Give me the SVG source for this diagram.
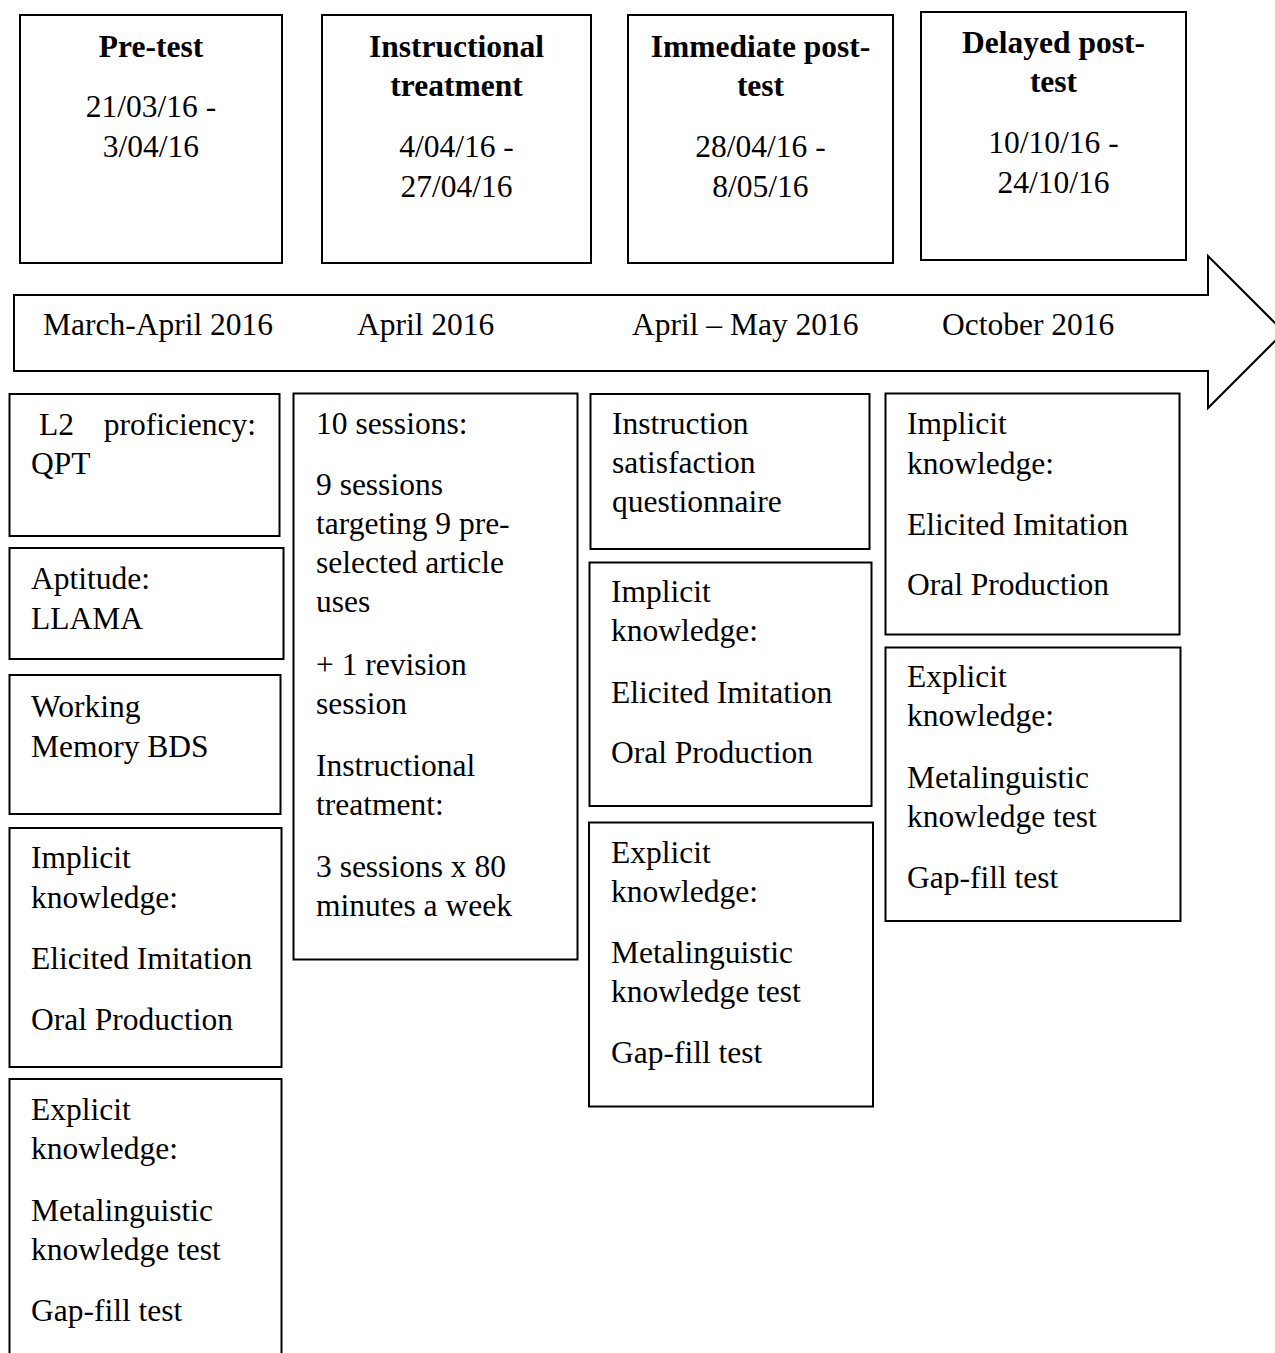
<svg xmlns="http://www.w3.org/2000/svg" width="1275" height="1353" viewBox="0 0 1275 1353">
<style>
.box{fill:#fff;stroke:#000;stroke-width:2}
.t{font-family:"Liberation Serif","Times New Roman",serif;font-size:31.5px;fill:#000}
.h{font-family:"Liberation Serif","Times New Roman",serif;font-size:31.5px;font-weight:bold;fill:#000}
.c{text-anchor:middle}
</style>
<rect width="1275" height="1353" fill="#fff"/>
<g id="connectors">
<polygon class="box" points="14,295 1208,295 1208,256 1284,332 1208,408 1208,371 14,371"/>
</g>
<g id="timeline-labels">
<text class="t" x="43" y="335">March-April 2016</text>
<text class="t" x="357" y="335">April 2016</text>
<text class="t" x="632" y="335">April – May 2016</text>
<text class="t" x="942" y="335">October 2016</text>
</g>
<g id="pretest">
<rect class="box" x="20" y="15" width="262" height="248"/>
<text class="h c" x="151" y="57">Pre-test</text>
<text class="t c" x="151" y="117">21/03/16 -</text>
<text class="t c" x="151" y="157">3/04/16</text>
</g>
<g id="treatment">
<rect class="box" x="322" y="15" width="269" height="248"/>
<text class="h c" x="456.5" y="57">Instructional</text>
<text class="h c" x="456.5" y="96">treatment</text>
<text class="t c" x="456.5" y="157">4/04/16 -</text>
<text class="t c" x="456.5" y="197">27/04/16</text>
</g>
<g id="immediate">
<rect class="box" x="628" y="15" width="265" height="248"/>
<text class="h c" x="760.5" y="57">Immediate post-</text>
<text class="h c" x="760.5" y="96">test</text>
<text class="t c" x="760.5" y="157">28/04/16 -</text>
<text class="t c" x="760.5" y="197">8/05/16</text>
</g>
<g id="delayed">
<rect class="box" x="921" y="12" width="265" height="248"/>
<text class="h c" x="1053.5" y="53">Delayed post-</text>
<text class="h c" x="1053.5" y="92">test</text>
<text class="t c" x="1053.5" y="153">10/10/16 -</text>
<text class="t c" x="1053.5" y="193">24/10/16</text>
</g>
<g id="pre-l2">
<rect class="box" x="9.5" y="394" width="270" height="142"/>
<text class="t" x="39" y="435" word-spacing="22">L2 proficiency:</text>
<text class="t" x="31" y="474">QPT</text>
</g>
<g id="pre-aptitude">
<rect class="box" x="9.5" y="548" width="274" height="111"/>
<text class="t" x="31" y="589">Aptitude:</text>
<text class="t" x="31" y="629">LLAMA</text>
</g>
<g id="pre-wm">
<rect class="box" x="9.5" y="675" width="271" height="139"/>
<text class="t" x="31" y="717">Working</text>
<text class="t" x="31" y="757">Memory BDS</text>
</g>
<g id="pre-implicit">
<rect class="box" x="9.5" y="828" width="272" height="239"/>
<text class="t" x="31" y="868">Implicit</text>
<text class="t" x="31" y="908">knowledge:</text>
<text class="t" x="31" y="969">Elicited Imitation</text>
<text class="t" x="31" y="1030">Oral Production</text>
</g>
<g id="pre-explicit">
<rect class="box" x="9.5" y="1079" width="272" height="300"/>
<text class="t" x="31" y="1120">Explicit</text>
<text class="t" x="31" y="1159">knowledge:</text>
<text class="t" x="31" y="1221">Metalinguistic</text>
<text class="t" x="31" y="1260">knowledge test</text>
<text class="t" x="31" y="1321">Gap-fill test</text>
</g>
<g id="sessions">
<rect class="box" x="293.5" y="393.5" width="284" height="566"/>
<text class="t" x="316" y="434">10 sessions:</text>
<text class="t" x="316" y="495">9 sessions</text>
<text class="t" x="316" y="534">targeting 9 pre-</text>
<text class="t" x="316" y="573">selected article</text>
<text class="t" x="316" y="612">uses</text>
<text class="t" x="316" y="675">+ 1 revision</text>
<text class="t" x="316" y="714">session</text>
<text class="t" x="316" y="776">Instructional</text>
<text class="t" x="316" y="815">treatment:</text>
<text class="t" x="316" y="877">3 sessions x 80</text>
<text class="t" x="316" y="916">minutes a week</text>
</g>
<g id="post-questionnaire">
<rect class="box" x="590.5" y="394" width="279" height="155"/>
<text class="t" x="612" y="434">Instruction</text>
<text class="t" x="612" y="473">satisfaction</text>
<text class="t" x="612" y="512">questionnaire</text>
</g>
<g id="post-implicit">
<rect class="box" x="589.5" y="562.5" width="282" height="243.5"/>
<text class="t" x="611" y="602">Implicit</text>
<text class="t" x="611" y="641">knowledge:</text>
<text class="t" x="611" y="703">Elicited Imitation</text>
<text class="t" x="611" y="763">Oral Production</text>
</g>
<g id="post-explicit">
<rect class="box" x="589" y="822.5" width="284" height="284"/>
<text class="t" x="611" y="863">Explicit</text>
<text class="t" x="611" y="902">knowledge:</text>
<text class="t" x="611" y="963">Metalinguistic</text>
<text class="t" x="611" y="1002">knowledge test</text>
<text class="t" x="611" y="1063">Gap-fill test</text>
</g>
<g id="delayed-implicit">
<rect class="box" x="885.5" y="393.5" width="294" height="241"/>
<text class="t" x="907" y="434">Implicit</text>
<text class="t" x="907" y="474">knowledge:</text>
<text class="t" x="907" y="535">Elicited Imitation</text>
<text class="t" x="907" y="595">Oral Production</text>
</g>
<g id="delayed-explicit">
<rect class="box" x="885.5" y="647.5" width="295" height="273.5"/>
<text class="t" x="907" y="687">Explicit</text>
<text class="t" x="907" y="726">knowledge:</text>
<text class="t" x="907" y="788">Metalinguistic</text>
<text class="t" x="907" y="827">knowledge test</text>
<text class="t" x="907" y="888">Gap-fill test</text>
</g>
</svg>
